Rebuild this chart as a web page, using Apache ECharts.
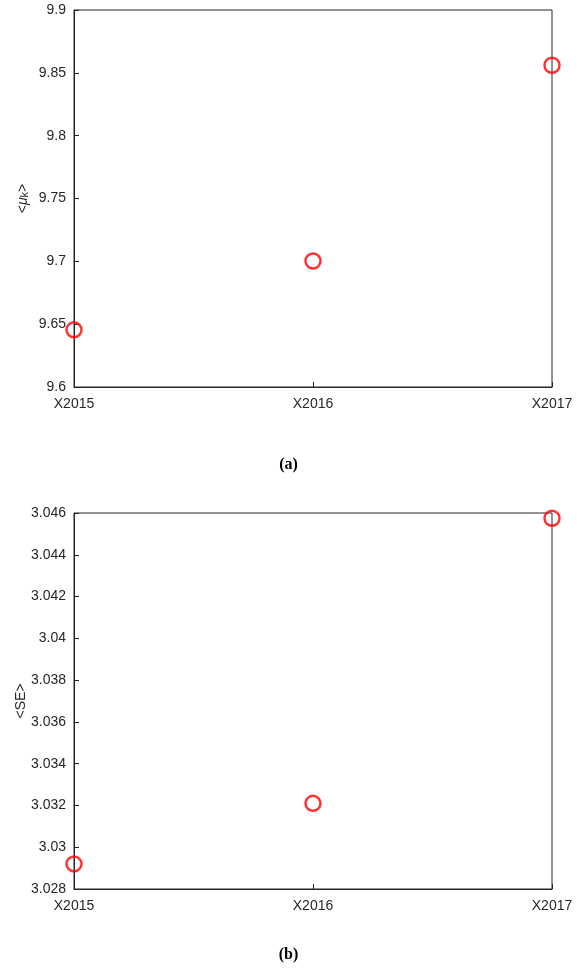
<!DOCTYPE html>
<html><head><meta charset="utf-8">
<script src="https://cdn.jsdelivr.net/npm/echarts@6/dist/echarts.min.js"></script>
<style>html,body{margin:0;padding:0;background:#fff}#c{width:577px;height:978px}</style>
</head><body><div id="c"></div>
<script>
const categories = ['X2015', 'X2016', 'X2017'];
const muValues = [9.6455, 9.7003, 9.8560];
const seValues = [3.0292, 3.0321, 3.04575];
const muTicks = [9.6, 9.9, 0.05];
const seTicks = [3.028, 3.046, 0.002];

const chart = echarts.init(document.getElementById('c'));
const txt = '#262626';
function xAxis(idx){
  return {type:'category', gridIndex:idx, data:categories, boundaryGap:false,
    axisLine:{lineStyle:{color:txt,width:1}}, axisTick:{inside:true,length:5,lineStyle:{color:txt}},
    axisLabel:{color:txt,fontFamily:'Liberation Sans',fontSize:14,margin:10}, splitLine:{show:false}};
}
function yAxis(idx, t, dec, name, gap){
  return {type:'value', gridIndex:idx, min:t[0], max:t[1], interval:t[2],
    axisLine:{show:true,lineStyle:{color:txt,width:1}}, axisTick:{show:true,inside:true,length:5,lineStyle:{color:txt}},
    axisLabel:{color:txt,fontFamily:'Liberation Sans',fontSize:14,margin:8,
      formatter:v=>{let s=v.toFixed(dec);s=s.replace(/0+$/,'').replace(/\.$/,'');return s;}},
    splitLine:{show:false},
    name:name, nameLocation:'middle', nameRotate:90, nameGap:gap, nameMoveOverlap:false,
    nameTextStyle:{color:txt,fontFamily:'Liberation Sans',fontSize:14,
      rich:{s:{fontSize:11,color:txt,fontFamily:'Liberation Sans',verticalAlign:'bottom'},
            n:{fontSize:14,color:txt,fontFamily:'Liberation Sans'},
            m:{fontSize:14,color:txt,fontFamily:'Liberation Sans',fontStyle:'italic'}}}};
}
chart.setOption({
  animation:false,
  grid:[
    {left:74, top:10, width:478, height:377, show:true, borderColor:txt, borderWidth:1, outerBoundsMode:'none', containLabel:false},
    {left:74, top:513, width:478, height:376, show:true, borderColor:txt, borderWidth:1, outerBoundsMode:'none', containLabel:false}
  ],
  xAxis:[xAxis(0), xAxis(1)],
  yAxis:[yAxis(0, muTicks, 2, '{n|<}{m|μ}{s|k}{n|>}', 44), yAxis(1, seTicks, 3, '<SE>', 46)],
  graphic:[
    {type:'text', left:'center', top:457, style:{text:'(a)', font:'bold 16px "Liberation Serif"', fill:'#000'}},
    {type:'text', left:'center', top:947, style:{text:'(b)', font:'bold 16px "Liberation Serif"', fill:'#000'}}
  ],
  series:[
    {type:'scatter', xAxisIndex:0, yAxisIndex:0, data:muValues, symbol:'circle', symbolSize:15,
      itemStyle:{color:'rgba(0,0,0,0)', borderColor:'#ff0000', borderWidth:2.5}},
    {type:'scatter', xAxisIndex:1, yAxisIndex:1, data:seValues, symbol:'circle', symbolSize:15,
      itemStyle:{color:'rgba(0,0,0,0)', borderColor:'#ff0000', borderWidth:2.5}}
  ]
});
</script></body></html>
